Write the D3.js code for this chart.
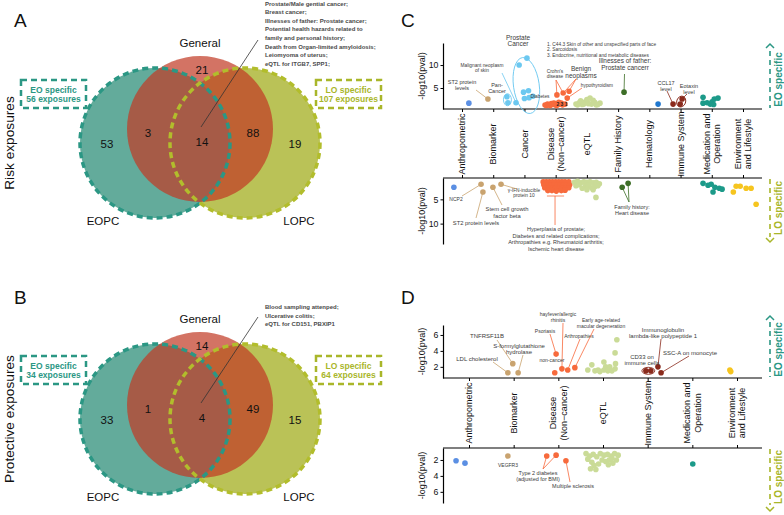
<!DOCTYPE html>
<html>
<head>
<meta charset="UTF-8">
<script src="https://d3js.org/d3.v7.min.js"></script>
<style>
body{margin:0;background:#fff;}
svg{display:block;font-family:"Liberation Sans",Arial,sans-serif;}
</style>
</head>
<body>
<div id="chart"></div>
<script>
// ---- Venn data ----
// order : General only, General&EOPC, all three, General&LOPC, EOPC only, LOPC only
const riskCounts = [21, 3, 14, 88, 53, 19];
const protCounts = [14, 1, 4, 49, 33, 15];
const riskSpecific = [56, 107];
const protSpecific = [34, 64];
const riskShared = ["Prostate/Male gential cancer;", "Breast cancer;", "Illnesses of father: Prostate cancer;",
  "Potential health hazards related to", "family and personal history;", "Death from Organ-limited amyloidosis;",
  "Leiomyoma of uterus;", "eQTL for ITGB7, SPP1;"];
const protShared = ["Blood sampling attenped;", "Ulcerative colitis;", "eQTL for CD151, PBXIP1"];

// ---- scatter data ----
const catC = ["Anthropometric", "Biomarker", "Cancer", "Disease\n(Non\u2212cancer)", "eQTL", "Family History",
  "Hematology", "Immune System", "Medication and\nOperation", "Environment\nand Lifestyle"];
const catD = ["Anthropometric", "Biomarker", "Disease\n(Non\u2212cancer)", "eQTL", "Immune System",
  "Medication and\nOperation", "Environment\nand Lifestyle"];
const catColor = {
  "Anthropometric": "#5b8fe3", "Biomarker": "#c9a36f", "Cancer": "#6cc8f0", "Disease": "#f76a3c",
  "eQTL": "#cadb97", "Family History": "#3d6e27", "Hematology": "#2078cf", "Immune System": "#8a2b1d",
  "Medication": "#1c9a89", "Environment": "#f6c51f"
};
// [category, jittered category index, -log10(p)]
const cEO = [
  ["Anthropometric", 0.22, 1.7],
  ["Biomarker", 0.83, 2.6],
  ["Cancer", 1.44, 3.1], ["Cancer", 1.47, 1.8], ["Cancer", 1.73, 1.8], ["Cancer", 1.83, 10.0],
  ["Cancer", 2.08, 11.5], ["Cancer", 1.97, 4.1], ["Cancer", 2.13, 4.4], ["Cancer", 2.0, 2.7],
  ["Cancer", 2.15, 2.9], ["Cancer", 2.27, 3.2],
  ["Disease", 3.04, 3.5], ["Disease", 3.24, 3.9], ["Disease", 3.43, 4.3], ["Disease", 3.37, 2.8],
  ["Disease", 2.66, 1.3], ["Disease", 2.74, 1.5], ["Disease", 2.82, 1.2], ["Disease", 2.9, 1.4],
  ["Disease", 2.98, 1.6], ["Disease", 3.06, 1.3], ["Disease", 3.14, 1.5], ["Disease", 3.22, 1.3],
  ["Disease", 2.7, 1.2], ["Disease", 2.86, 1.6], ["Disease", 3.02, 1.2], ["Disease", 3.18, 1.7],
  ["Disease", 2.94, 1.7], ["Disease", 3.1, 1.9], ["Disease", 3.3, 1.5],
  ["eQTL", 3.65, 1.5], ["eQTL", 3.75, 1.8], ["eQTL", 3.85, 1.4], ["eQTL", 3.95, 2.0], ["eQTL", 4.05, 1.6],
  ["eQTL", 4.15, 1.5], ["eQTL", 4.25, 1.9], ["eQTL", 4.35, 1.4], ["eQTL", 4.42, 1.7], ["eQTL", 3.8, 2.2],
  ["eQTL", 4.0, 2.5], ["eQTL", 4.1, 2.8], ["eQTL", 4.2, 2.3], ["eQTL", 3.7, 1.3], ["eQTL", 3.9, 1.5],
  ["eQTL", 4.3, 1.3],
  ["Family History", 5.19, 4.1],
  ["Hematology", 6.28, 1.5],
  ["Immune System", 6.76, 1.5], ["Immune System", 6.99, 1.5], ["Immune System", 7.05, 2.6],
  ["Medication", 7.72, 3.0], ["Medication", 7.72, 1.7], ["Medication", 7.85, 1.8], ["Medication", 7.95, 1.5],
  ["Medication", 8.01, 2.0], ["Medication", 8.06, 1.4], ["Medication", 8.08, 2.6], ["Medication", 8.2, 2.8]
];
const cLO = [
  ["Anthropometric", -0.26, 2.5],
  ["Biomarker", 0.61, 1.9], ["Biomarker", 0.67, 3.5], ["Biomarker", 0.99, 2.5], ["Biomarker", 1.25, 1.9],
  ["Disease", 2.6, 1.4], ["Disease", 2.7, 1.4], ["Disease", 2.8, 1.4], ["Disease", 2.9, 1.4], ["Disease", 3.0, 1.4],
  ["Disease", 3.1, 1.4], ["Disease", 3.2, 1.4], ["Disease", 3.3, 1.4], ["Disease", 3.42, 1.4],
  ["Disease", 2.62, 2.0], ["Disease", 2.75, 2.0], ["Disease", 2.85, 2.0], ["Disease", 2.95, 2.0], ["Disease", 3.05, 2.0],
  ["Disease", 3.15, 2.0], ["Disease", 3.25, 2.0], ["Disease", 3.35, 2.0], ["Disease", 3.45, 2.0],
  ["Disease", 2.65, 2.6], ["Disease", 2.78, 2.6], ["Disease", 2.9, 2.6], ["Disease", 3.0, 2.6],
  ["Disease", 3.12, 2.6], ["Disease", 3.22, 2.6], ["Disease", 3.32, 2.6], ["Disease", 3.42, 2.6],
  ["Disease", 2.75, 3.2], ["Disease", 2.88, 3.2], ["Disease", 3.02, 3.3], ["Disease", 3.18, 3.2], ["Disease", 3.3, 3.1],
  ["eQTL", 3.6, 1.5], ["eQTL", 3.7, 1.3], ["eQTL", 3.8, 1.6], ["eQTL", 3.9, 1.4], ["eQTL", 4.0, 1.5],
  ["eQTL", 4.1, 1.4], ["eQTL", 4.2, 1.6], ["eQTL", 4.3, 1.5], ["eQTL", 4.4, 1.8], ["eQTL", 3.65, 2.2],
  ["eQTL", 3.75, 2.0], ["eQTL", 3.95, 2.3], ["eQTL", 4.05, 2.1], ["eQTL", 4.15, 2.6], ["eQTL", 4.25, 2.4],
  ["eQTL", 4.35, 2.2], ["eQTL", 3.85, 2.7], ["eQTL", 4.0, 3.0], ["eQTL", 4.2, 3.0], ["eQTL", 4.29, 4.6],
  ["Family History", 5.13, 2.5], ["Family History", 5.32, 1.7],
  ["Medication", 7.72, 1.7], ["Medication", 7.88, 2.1], ["Medication", 7.98, 1.9], ["Medication", 8.04, 3.5],
  ["Medication", 8.1, 2.5], ["Medication", 8.24, 2.7], ["Medication", 8.33, 2.9],
  ["Environment", 8.69, 3.5], ["Environment", 8.78, 2.3], ["Environment", 8.91, 2.3], ["Environment", 9.1, 2.7],
  ["Environment", 9.26, 2.7], ["Environment", 9.42, 6.0]
];
const dEO = [
  ["Biomarker", 0.87, 1.25], ["Biomarker", 0.98, 2.4], ["Biomarker", 1.1, 1.25],
  ["Disease", 1.92, 1.25], ["Disease", 1.95, 3.6], ["Disease", 2.08, 1.75], ["Disease", 2.21, 1.6], ["Disease", 2.37, 1.9],
  ["eQTL", 2.66, 1.6], ["eQTL", 2.75, 2.25], ["eQTL", 2.82, 1.5], ["eQTL", 2.89, 1.6], ["eQTL", 2.93, 1.4],
  ["eQTL", 3.02, 2.6], ["eQTL", 3.02, 1.6], ["eQTL", 3.06, 2.0], ["eQTL", 3.11, 1.5], ["eQTL", 3.15, 2.0],
  ["eQTL", 3.2, 1.5], ["eQTL", 3.27, 1.75], ["eQTL", 3.27, 3.75], ["eQTL", 3.31, 5.4], ["eQTL", 3.28, 2.4],
  ["Immune System", 3.96, 1.5], ["Immune System", 4.07, 1.5], ["Immune System", 4.23, 2.0], ["Immune System", 4.3, 1.25],
  ["Environment", 5.84, 1.6], ["Environment", 5.86, 1.4]
];
const dLO = [
  ["Anthropometric", -0.29, 2.1], ["Anthropometric", -0.09, 2.4],
  ["Biomarker", 0.87, 1.5],
  ["Disease", 1.74, 1.5], ["Disease", 1.95, 1.4], ["Disease", 2.17, 2.1],
  ["eQTL", 2.62, 1.2], ["eQTL", 2.7, 1.5], ["eQTL", 2.78, 1.3], ["eQTL", 2.86, 1.6], ["eQTL", 2.94, 1.2],
  ["eQTL", 3.02, 1.4], ["eQTL", 3.1, 1.3], ["eQTL", 3.18, 1.5], ["eQTL", 3.26, 1.2], ["eQTL", 3.34, 1.4],
  ["eQTL", 2.66, 1.9], ["eQTL", 2.75, 2.3], ["eQTL", 2.8, 2.7], ["eQTL", 2.72, 3.1], ["eQTL", 2.84, 3.2],
  ["eQTL", 2.9, 2.5], ["eQTL", 2.98, 2.0], ["eQTL", 3.06, 2.2], ["eQTL", 3.14, 2.0], ["eQTL", 3.22, 2.4],
  ["eQTL", 3.3, 2.0], ["eQTL", 3.12, 2.6], ["eQTL", 3.2, 1.8],
  ["Medication", 5.01, 2.5]
];

const W = 784, H = 515;
const svg = d3.select('#chart').append('svg').attr('width', W).attr('height', H);
const TEAL = '#2b9784', OLIVE = '#a9b62a', GREY = '#3a3a3a';

function txt(g, x, y, lines, o) {
  o = o || {};
  const t = g.append('text')
    .attr('font-size', o.size || 6)
    .attr('fill', o.color || GREY)
    .attr('font-weight', o.weight || 'normal')
    .attr('text-anchor', o.anchor || 'middle');
  lines.forEach((l, i) => {
    t.append('tspan').attr('x', x).attr('y', y + i * (o.lh || 6)).attr('dy', '0.35em').text(l);
  });
  return t;
}
function lead(g, x1, y1, x2, y2, c) {
  g.append('line').attr('x1', x1).attr('y1', y1).attr('x2', x2).attr('y2', y2)
    .attr('stroke', c).attr('stroke-width', 0.8);
}

// ---- Venn diagrams ----
function drawVenn(oy, counts, spec, notes, title) {
  const g = svg.append('g').attr('transform', 'translate(0,' + oy + ')');
  const gen = {x: 200, y: 129, r: 73}, eo = {x: 155, y: 143, r: 75}, lo = {x: 245, y: 143, r: 75};
  g.append('circle').attr('cx', lo.x).attr('cy', lo.y).attr('r', lo.r).attr('fill', '#bac257');
  g.append('circle').attr('cx', eo.x).attr('cy', eo.y).attr('r', eo.r).attr('fill', '#63ab9b');
  g.append('circle').attr('cx', gen.x).attr('cy', gen.y).attr('r', gen.r).attr('fill', '#c13a25').attr('fill-opacity', 0.71);
  g.append('circle').attr('cx', eo.x).attr('cy', eo.y).attr('r', eo.r).attr('fill', 'none')
    .attr('stroke', TEAL).attr('stroke-width', 3.5).attr('stroke-dasharray', '6,4');
  g.append('circle').attr('cx', lo.x).attr('cy', lo.y).attr('r', lo.r).attr('fill', 'none')
    .attr('stroke', '#b2bd2c').attr('stroke-width', 3.5).attr('stroke-dasharray', '6,4');

  const pos = [[202, 70], [148, 133], [202, 142], [253, 133], [107, 144], [295, 144]];
  counts.forEach((c, i) => txt(g, pos[i][0], pos[i][1], [String(c)], {size: 11.5, color: '#111'}));
  txt(g, 200, 43, ['General'], {size: 11.5, color: '#111'});
  txt(g, 103, 221, ['EOPC'], {size: 11.5, color: '#111'});
  txt(g, 299, 221, ['LOPC'], {size: 11.5, color: '#111'});

  // specific boxes
  [[21, TEAL, 'EO specific', spec[0]], [316, OLIVE, 'LO specific', spec[1]]].forEach(b => {
    g.append('rect').attr('x', b[0]).attr('y', 80).attr('width', 65).attr('height', 28)
      .attr('fill', 'none').attr('stroke', b[1]).attr('stroke-width', 2.5).attr('stroke-dasharray', '6,4');
    txt(g, b[0] + 32.5, 90, [b[2], b[3] + ' exposures'], {size: 8.5, color: b[1], weight: 'bold', lh: 9.5});
  });

  // shared annotation
  lead(g, 201, 127, 258, notes.length > 3 ? 40 : 41, '#333');
  const ny0 = notes.length > 3 ? 3.5 : 31;
  txt(g, 265, ny0, notes, {size: 6, color: '#4a4a4a', weight: 'bold', anchor: 'start', lh: 8.6});

  g.append('text').attr('transform', 'translate(14,143) rotate(-90)').attr('text-anchor', 'middle')
    .attr('font-size', 13.7).attr('fill', '#111').text(title);
}
drawVenn(0, riskCounts, riskSpecific, riskShared, 'Risk exposures');
drawVenn(276, protCounts, protSpecific, protShared, 'Protective exposures');

[['A', 14, 27], ['B', 14, 304], ['C', 401, 27], ['D', 401, 304]].forEach(p => {
  svg.append('text').attr('x', p[1]).attr('y', p[2]).attr('font-size', 19).attr('fill', '#111').text(p[0]);
});

// ---- scatter panels ----
const xC = d3.scaleLinear().domain([0, 9]).range([462, 743]);
const xD = d3.scaleLinear().domain([0, 6]).range([469, 737]);
const yCe = d3.scaleLinear().domain([0.43, 14.8]).range([109, 43]);
const yCl = d3.scaleLinear().domain([0.6, 14.2]).range([178, 244]);
const yDe = d3.scaleLinear().domain([0.6, 7.25]).range([378, 325]);
const yDl = d3.scaleLinear().domain([0.5, 7.4]).range([448, 503]);

function panel(x, y, data, ncat, ticks, base, top) {
  const g = svg.append('g');
  const ya = g.append('g').attr('transform', 'translate(443,0)')
    .call(d3.axisLeft(y).tickValues(ticks).tickSize(2.5).tickPadding(2).tickSizeOuter(0).tickFormat(d3.format('d')));
  ya.selectAll('text').attr('font-size', 8.8).attr('fill', '#111').attr('font-family', null);
  ya.select('.domain').attr('stroke-width', 1.2);
  const xa = g.append('g').attr('transform', 'translate(0,' + base + ')')
    .call((top ? d3.axisTop(x) : d3.axisBottom(x)).tickValues(d3.range(ncat)).tickSize(3).tickFormat(''));
  xa.select('.domain').remove();
  g.append('line').attr('x1', 443).attr('x2', 762).attr('y1', base).attr('y2', base)
    .attr('stroke', '#000').attr('stroke-width', 1.2);
  g.append('text').attr('transform', 'translate(425,' + d3.mean(y.range()) + ') rotate(-90)')
    .attr('text-anchor', 'middle').attr('font-size', 9).attr('fill', '#111').text('-log10(pval)');
  g.selectAll('circle.pt').data(data).enter().append('circle').attr('class', 'pt')
    .attr('cx', d => x(d[1])).attr('cy', d => y(d[2])).attr('r', 2.8)
    .attr('fill', d => catColor[d[0]]);
  return g;
}
function catLabels(x, cats, midY) {
  cats.forEach((c, i) => {
    const lines = c.split('\n');
    const t = svg.append('text').attr('transform', 'translate(' + x(i) + ',' + midY + ') rotate(-90)')
      .attr('text-anchor', 'middle').attr('font-size', 9).attr('fill', '#111');
    lines.forEach((l, j) => t.append('tspan').attr('x', 0)
      .attr('y', (j - (lines.length - 1) / 2) * 10.5).attr('dy', '0.35em').text(l));
  });
}
function sideTag(yTip, yA, yB, up, label, col) {
  svg.append('line').attr('x1', 770).attr('x2', 770).attr('y1', yA).attr('y2', yB)
    .attr('stroke', col).attr('stroke-width', 1.6).attr('stroke-dasharray', '5,4');
  const s = up ? 1 : -1;
  svg.append('path').attr('d', 'M766,' + (yTip + 4 * s) + 'L770,' + yTip + 'L774,' + (yTip + 4 * s))
    .attr('fill', 'none').attr('stroke', col).attr('stroke-width', 1.5);
  svg.append('text').attr('transform', 'translate(781.5,' + (yA + yB) / 2 + ') rotate(-90)')
    .attr('text-anchor', 'middle').attr('font-size', 10).attr('font-weight', 'bold').attr('fill', col).text(label);
}
function ellipseAround(g, x, y, pts, px, py, rot, col) {
  const cx = d3.mean(pts, d => x(d[1])), cy = d3.mean(pts, d => y(d[2]));
  const rx = (d3.max(pts, d => x(d[1])) - d3.min(pts, d => x(d[1]))) / 2 + px;
  const ry = (d3.max(pts, d => y(d[2])) - d3.min(pts, d => y(d[2]))) / 2 + py;
  g.append('ellipse').attr('cx', cx).attr('cy', cy).attr('rx', rx).attr('ry', ry)
    .attr('transform', 'rotate(' + rot + ',' + cx + ',' + cy + ')')
    .attr('fill', 'none').attr('stroke', col).attr('stroke-width', 0.9);
}
const P = (x, y, d) => [x(d[1]), y(d[2])];

// ---- C : EO ----
const gCe = panel(xC, yCe, cEO, catC.length, [5, 10], 109, false);
catLabels(xC, catC, 144);
sideTag(44, 51, 108, true, 'EO specific', TEAL);
{
  const g = gCe, X = xC, Y = yCe, col = catColor;
  ellipseAround(g, X, Y, cEO.slice(5, 12), 6, 8, -8, col.Cancer);
  ellipseAround(g, X, Y, cEO.slice(2, 4), 3.5, 3, 0, col.Cancer);
  ellipseAround(g, X, Y, cEO.slice(50, 52), 3.5, 3, 20, col['Immune System']);
  txt(g, 462, 82, ['ST2 protein', 'levels'], {size: 5.5, lh: 6});
  lead(g, 476, 90, ...P(X, Y, cEO[1]), col.Biomarker);
  txt(g, 482, 65, ['Malignant neoplasm', 'of skin'], {size: 4.8, lh: 5.5});
  lead(g, 502, 73, ...P(X, Y, cEO[4]), col.Cancer);
  txt(g, 497, 85, ['Pan-', 'Cancer'], {size: 5.5, lh: 6});
  txt(g, 518, 37.5, ['Prostate', 'Cancer'], {size: 6.5, lh: 6.5});
  txt(g, 547, 44, ['1. C44.3 Skin of other and unspecified parts of face', '2. Sarcoidosis',
    '3. Endocrine, nutritional and metabolic diseases'], {size: 4.8, lh: 5.5, anchor: 'start'});
  txt(g, 555, 71, ["Crohn's", 'disease'], {size: 4.8, lh: 5.5});
  lead(g, 556, 80, ...P(X, Y, cEO[12]), col.Disease);
  lead(g, 556, 80, ...P(X, Y, cEO[13]), col.Disease);
  txt(g, 581, 69, ['Benign', 'neoplasms'], {size: 6.5, lh: 6.5});
  lead(g, 576, 79, ...P(X, Y, cEO[13]), col.Disease);
  lead(g, 576, 79, ...P(X, Y, cEO[14]), col.Disease);
  txt(g, 597, 85.5, ['hypothyroidism'], {size: 4.8});
  lead(g, 582, 88, ...P(X, Y, cEO[15]), col.Disease);
  txt(g, 540, 96.5, ['Diabetes'], {size: 4.8});
  txt(g, 562, 104.5, ['2 3 1'], {size: 5, color: '#222', weight: 'bold'});
  txt(g, 625, 61, ['Illnesses of father:', 'Prostate cancerr'], {size: 6.5, lh: 6.5});
  lead(g, 624.5, 74, ...P(X, Y, cEO[47]), col['Family History']);
  txt(g, 666, 83, ['CCL17', 'level'], {size: 5.5, lh: 6});
  lead(g, 667, 91, ...P(X, Y, cEO[49]), col['Immune System']);
  txt(g, 689, 86, ['Eotaxin', 'level'], {size: 5.5, lh: 6});
  lead(g, 687, 94, 684, 97, col['Immune System']);
}

// ---- C : LO ----
const gCl = panel(xC, yCl, cLO, catC.length, [5, 10], 178, true);
sideTag(242, 179, 237, false, 'LO specific', OLIVE);
{
  const g = gCl, X = xC, Y = yCl, col = catColor;
  txt(g, 456, 199, ['NCP2'], {size: 5});
  lead(g, 462, 196, ...P(X, Y, cLO[1]), col.Biomarker);
  txt(g, 476, 223, ['ST2 protein levels'], {size: 5.8});
  lead(g, 476, 218, ...P(X, Y, cLO[2]), col.Biomarker);
  txt(g, 507, 209, ['Stem cell growth', 'factor beta'], {size: 5.8, lh: 6.5});
  lead(g, 502, 205, ...P(X, Y, cLO[3]), col.Biomarker);
  txt(g, 524, 190, ['\u03b3-IFN-inducible', 'protein 10'], {size: 4.8, lh: 5.5});
  lead(g, 517, 189, ...P(X, Y, cLO[4]), col.Biomarker);
  lead(g, X(2.72), 196, X(3.27), 196, col.Disease);
  lead(g, X(2.98), 196, X(2.98), 225, col.Disease);
  txt(g, 556, 229, ['Hyperplasia of prostate;', 'Diabetes and related complications;',
    'Arthropathies e.g. Rheumatoid arthritis;', 'Ischemic heart disease'], {size: 5.5, lh: 6.6});
  txt(g, 632, 207, ['Family history:', 'Heart disease'], {size: 5.5, lh: 6.5});
  lead(g, 629, 202, ...P(X, Y, cLO[56]), col['Family History']);
  lead(g, 629, 202, ...P(X, Y, cLO[57]), col['Family History']);
}

// ---- D : EO ----
const gDe = panel(xD, yDe, dEO, catD.length, [2, 4, 6], 378, false);
catLabels(xD, catD, 413);
sideTag(316, 322, 377, true, 'EO specific', TEAL);
{
  const g = gDe, X = xD, Y = yDe, col = catColor;
  txt(g, 487, 336, ['TNFRSF11B'], {size: 6});
  lead(g, 497, 340, ...P(X, Y, dEO[1]), col.Biomarker);
  txt(g, 519, 346, ['S-formylglutathione', 'hydrolase'], {size: 6, lh: 6});
  lead(g, 523, 355, ...P(X, Y, dEO[2]), col.Biomarker);
  txt(g, 477, 359, ['LDL cholesterol'], {size: 6});
  lead(g, 493, 362, ...P(X, Y, dEO[0]), col.Biomarker);
  txt(g, 545, 331, ['Psoriasis'], {size: 5});
  lead(g, 550, 334, ...P(X, Y, dEO[4]), col.Disease);
  txt(g, 558, 314, ['hayfever/allergic', 'rhinitis'], {size: 5, lh: 5.8});
  lead(g, 563, 323, ...P(X, Y, dEO[5]), col.Disease);
  txt(g, 579, 336, ['Arthropathies'], {size: 5});
  lead(g, 580, 339, ...P(X, Y, dEO[6]), col.Disease);
  txt(g, 601, 320.5, ['Early age-related', 'macular degeneration'], {size: 5, lh: 5.8});
  lead(g, 594, 329, ...P(X, Y, dEO[7]), col.Disease);
  txt(g, 552, 360, ['non-cancer'], {size: 5});
  ellipseAround(g, X, Y, dEO.slice(23, 25), 4, 3.5, 0, col['Immune System']);
  txt(g, 663, 330, ['Immunoglobulin', 'lambda-like polypeptide 1'], {size: 6, lh: 6});
  lead(g, 661, 339, ...P(X, Y, dEO[25]), col['Immune System']);
  txt(g, 642, 357, ['CD33 on', 'immune cells'], {size: 6, lh: 5.5});
  txt(g, 690, 353, ['SSC-A on monocyte'], {size: 6});
  lead(g, 689, 356, ...P(X, Y, dEO[26]), col['Immune System']);
}

// ---- D : LO ----
const gDl = panel(xD, yDl, dLO, catD.length, [2, 4, 6], 448, true);
sideTag(511, 449, 505, false, 'LO specific', OLIVE);
{
  const g = gDl, X = xD, Y = yDl, col = catColor;
  txt(g, 508, 465, ['VEGFR3'], {size: 5});
  txt(g, 538, 473, ['Type 2 diabetes', '(adjusted for BMI)'], {size: 5.5, lh: 6});
  lead(g, 543, 469, ...P(X, Y, dLO[3]), col.Disease);
  lead(g, 543, 469, ...P(X, Y, dLO[4]), col.Disease);
  txt(g, 573, 486, ['Multiple sclerosis'], {size: 5.5});
  lead(g, 570, 482, ...P(X, Y, dLO[5]), col.Disease);
}
</script>
</body>
</html>
